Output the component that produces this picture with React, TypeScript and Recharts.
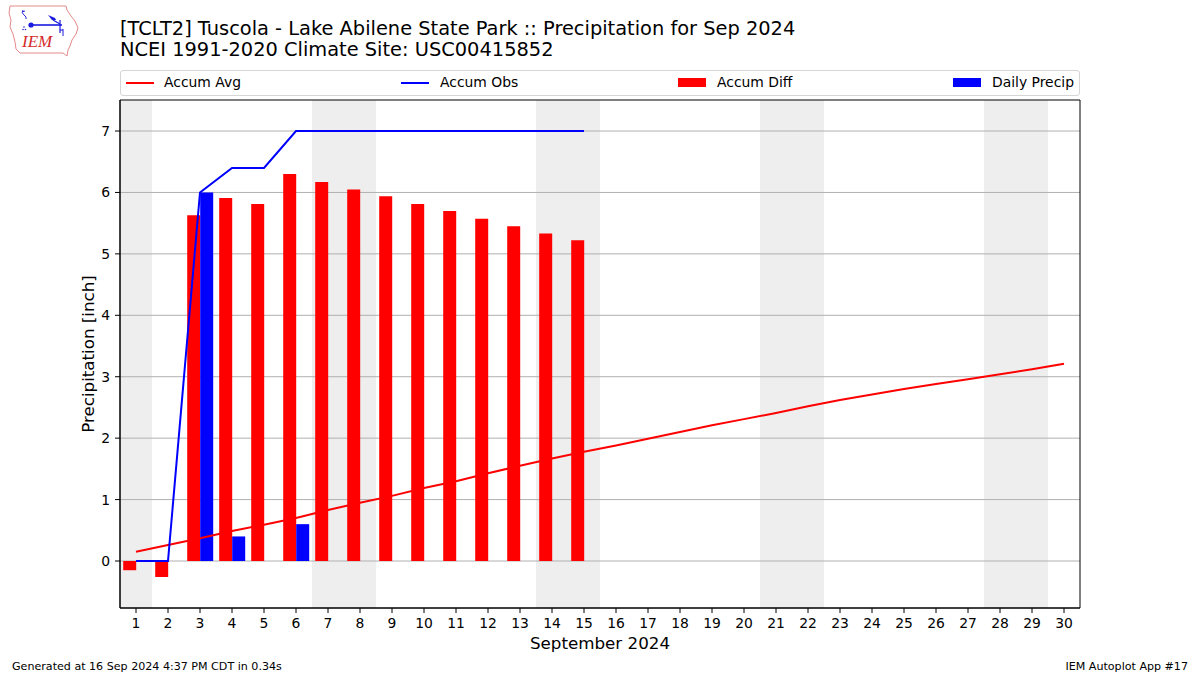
import React from "react";
import {
  ComposedChart,
  Bar,
  Line,
  XAxis,
  YAxis,
  ReferenceArea,
  ReferenceLine,
} from "recharts";

const days = [1, 2, 3, 4, 5, 6, 7, 8, 9, 10, 11, 12, 13, 14, 15, 16, 17, 18, 19, 20, 21, 22, 23, 24, 25, 26, 27, 28, 29, 30];
const accumAvg = [0.15, 0.26, 0.37, 0.49, 0.59, 0.7, 0.83, 0.95, 1.06, 1.19, 1.3, 1.43, 1.55, 1.67, 1.78, 1.88, 1.99, 2.1, 2.21, 2.31, 2.41, 2.52, 2.62, 2.71, 2.8, 2.88, 2.96, 3.04, 3.12, 3.21];
const accumObs = [0, 0, 6.0, 6.4, 6.4, 7.0, 7.0, 7.0, 7.0, 7.0, 7.0, 7.0, 7.0, 7.0, 7.0];
const accumDiff = [-0.15, -0.26, 5.63, 5.91, 5.81, 6.3, 6.17, 6.05, 5.94, 5.81, 5.7, 5.57, 5.45, 5.33, 5.22];
const dailyPrecip = [0, 0, 6.0, 0.4, 0, 0.6, 0, 0, 0, 0, 0, 0, 0, 0, 0];
const weekendDays = [1, 7, 8, 14, 15, 21, 22, 28, 29];
const yTicks = [0, 1, 2, 3, 4, 5, 6, 7];
const yDomain = [-0.765, 7.505];

const titleLine1 = "[TCLT2] Tuscola - Lake Abilene State Park :: Precipitation for Sep 2024";
const titleLine2 = "NCEI 1991-2020 Climate Site: USC00415852";
const footerLeft = "Generated at 16 Sep 2024 4:37 PM CDT in 0.34s";
const footerRight = "IEM Autoplot App #17";

const data = days.map((d, i) => ({
  day: d,
  avg: accumAvg[i],
  obs: i < accumObs.length ? accumObs[i] : null,
  diff: i < accumDiff.length ? accumDiff[i] : null,
  precip: i < dailyPrecip.length ? dailyPrecip[i] : null,
}));

const FONT = "DejaVu Sans, sans-serif";

const legendItems = [
  { label: "Accum Avg", color: "#ff0000", kind: "line", hx: 6, tx: 44 },
  { label: "Accum Obs", color: "#0000ff", kind: "line", hx: 281, tx: 320 },
  { label: "Accum Diff", color: "#ff0000", kind: "rect", hx: 558, tx: 597 },
  { label: "Daily Precip", color: "#0000ff", kind: "rect", hx: 833, tx: 872 },
];

const LegendBox = () => (
  <div
    style={{
      position: "absolute",
      left: 120,
      top: 70,
      width: 958,
      height: 24,
      border: "1px solid #d5d5d5",
      borderRadius: 3,
      fontFamily: FONT,
      fontSize: 13.9,
      background: "#fff",
    }}
  >
    {legendItems.map((it) => (
      <React.Fragment key={it.label}>
        {it.kind === "line" ? (
          <div style={{ position: "absolute", left: it.hx - 1, top: 10.5, width: 28, height: 2, background: it.color }} />
        ) : (
          <div style={{ position: "absolute", left: it.hx - 1, top: 7, width: 28, height: 9, background: it.color }} />
        )}
        <div style={{ position: "absolute", left: it.tx - 1, top: 3, lineHeight: "17px", color: "#000", whiteSpace: "nowrap" }}>
          {it.label}
        </div>
      </React.Fragment>
    ))}
  </div>
);

const YLabel = () => (
  <text
    x={94}
    y={354}
    transform="rotate(-90 94 354)"
    textAnchor="middle"
    fontFamily={FONT}
    fontSize={16.7}
    fill="#000"
  >
    Precipitation [inch]
  </text>
);

const Logo = () => (
  <svg width={90} height={62} style={{ position: "absolute", left: 0, top: 0 }}>
    <path
      d="M10 6 L66 6 L67 10 L71 16 L75 21 L78 28 L76 34 L72 40 L70 46 L68 50 L67 56 L63 53 L20 53 L16 49 L15 42 L13 34 L10 27 L11 20 L9 13 Z"
      fill="none"
      stroke="#e58a8a"
      strokeWidth={1}
    />
    <path d="M23 10 Q21 13 24 15 Q27 17 26 19" fill="none" stroke="#2a2ad8" strokeWidth={1} />
    <line x1={22} y1={12} x2={25} y2={11} stroke="#2a2ad8" strokeWidth={1} />
    <line x1={31} y1={25} x2={62} y2={25} stroke="#1a1ae0" strokeWidth={1.6} />
    <circle cx={31} cy={25} r={2.6} fill="#1a1ae0" />
    <path d="M48 15 L55 18 L56 20 L52 20 Z" fill="#1a1ae0" />
    <line x1={53} y1={20} x2={60} y2={24} stroke="#1a1ae0" strokeWidth={1.2} />
    <line x1={60} y1={20} x2={60} y2={33} stroke="#1a1ae0" strokeWidth={1.2} />
    <line x1={60} y1={30} x2={63} y2={30} stroke="#1a1ae0" strokeWidth={1} />
    <line x1={63} y1={29} x2={63} y2={36} stroke="#1a1ae0" strokeWidth={1} />
    <circle cx={24} cy={27} r={0.8} fill="#2a2ad8" />
    <circle cx={23} cy={29.5} r={0.8} fill="#2a2ad8" />
    <circle cx={25.5} cy={29.5} r={0.8} fill="#2a2ad8" />
    <text x={22} y={47} fontFamily="Liberation Serif, serif" fontStyle="italic" fontSize={17} fill="#d42a2a">
      IEM
    </text>
  </svg>
);

export default function App() {
  return (
    <div style={{ position: "absolute", left: 0, top: 0, width: 1200, height: 675, background: "#fff", overflow: "hidden" }}>
      <Logo />
      <svg width={1200} height={675} style={{ position: "absolute", left: 0, top: 0, pointerEvents: "none" }}>
        <text x={120} y={35} fontFamily={FONT} fontSize={19.4} fill="#000">{titleLine1}</text>
        <text x={120} y={56} fontFamily={FONT} fontSize={19.4} fill="#000">{titleLine2}</text>
        <text x={12} y={670} fontFamily={FONT} fontSize={11.1} fill="#000">{footerLeft}</text>
        <text x={1188} y={670} fontFamily={FONT} fontSize={11.1} fill="#000" textAnchor="end">{footerRight}</text>
      </svg>
      <LegendBox />
      <div style={{ position: "absolute", left: 0, top: 0 }}>
        <ComposedChart
          width={1200}
          height={675}
          data={data}
          margin={{ top: 100, right: 120, bottom: 20, left: 60 }}
          barCategoryGap="10%"
          barGap={0}
        >
          {weekendDays.map((d) => (
            <ReferenceArea
              key={"w" + d}
              x1={d}
              x2={d}
              fill="#eeeeee"
              fillOpacity={1}
              stroke="none"
              ifOverflow="visible"
              zIndex={-90}
            />
          ))}
          {yTicks.map((t) => (
            <ReferenceLine key={"g" + t} y={t} stroke="#b0b0b0" strokeWidth={1} zIndex={-80} />
          ))}
          <XAxis
            dataKey="day"
            type="category"
            interval={0}
            height={47}
            tickSize={5}
            tickMargin={5}
            tick={{ fontFamily: FONT, fontSize: 13.9, fill: "#000" }}
            tickLine={{ stroke: "#000" }}
            axisLine={{ stroke: "#000" }}
            label={{
              value: "September 2024",
              position: "insideBottom",
              offset: 6,
              style: { fontFamily: FONT, fontSize: 16.7, fill: "#000" },
            }}
          />
          <YAxis
            type="number"
            domain={yDomain}
            allowDataOverflow
            ticks={yTicks}
            width={60}
            tickSize={5}
            tickMargin={5}
            tick={{ fontFamily: FONT, fontSize: 13.9, fill: "#000" }}
            tickLine={{ stroke: "#000" }}
            axisLine={{ stroke: "#000" }}
            label={<YLabel />}
          />
          <Bar dataKey="diff" name="Accum Diff" fill="#ff0000" isAnimationActive={false} />
          <Bar dataKey="precip" name="Daily Precip" fill="#0000ff" isAnimationActive={false} />
          <Line
            dataKey="avg"
            name="Accum Avg"
            stroke="#ff0000"
            strokeWidth={2}
            dot={false}
            activeDot={false}
            type="linear"
            isAnimationActive={false}
          />
          <Line
            dataKey="obs"
            name="Accum Obs"
            stroke="#0000ff"
            strokeWidth={2}
            dot={false}
            activeDot={false}
            type="linear"
            isAnimationActive={false}
          />
          <ReferenceArea
            x1={days[0]}
            x2={days[days.length - 1]}
            y1={yDomain[0]}
            y2={yDomain[1]}
            fill="none"
            fillOpacity={0}
            stroke="#000"
            strokeWidth={1}
            ifOverflow="visible"
            zIndex={1000}
          />
        </ComposedChart>
      </div>
    </div>
  );
}
